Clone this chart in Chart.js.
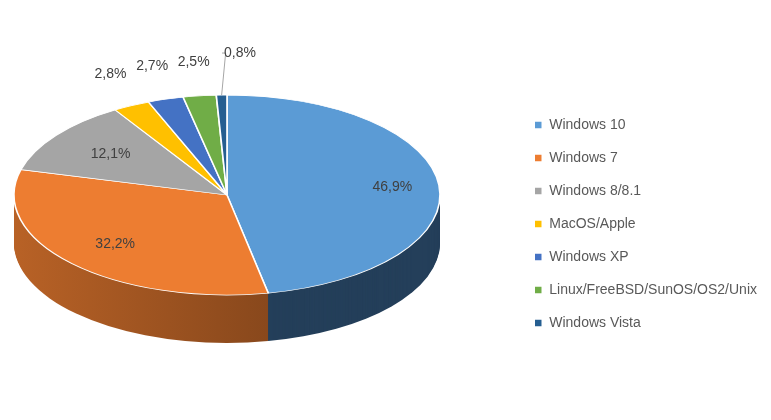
<!DOCTYPE html>
<html>
<head>
<meta charset="utf-8">
<script src="https://cdn.jsdelivr.net/npm/chart.js@4"></script>
<style>
  body { margin: 0; background: #fff; }
  #wrap { width: 771px; height: 420px; }
</style>
</head>
<body>
<div id="wrap"><canvas id="pie"></canvas></div>
<script>
const labels = ['Windows 10', 'Windows 7', 'Windows 8/8.1', 'MacOS/Apple', 'Windows XP', 'Linux/FreeBSD/SunOS/OS2/Unix', 'Windows Vista'];
const shares = [46.9, 32.2, 12.1, 2.8, 2.7, 2.5, 0.8];
const colors = ['#5b9bd5', '#ed7d31', '#a5a5a5', '#ffc000', '#4472c4', '#70ad47', '#255e91'];

// where the tilted pie sits on screen
const CX = 227, CY = 195, RX = 213, RY = 100, DEPTH = 48;

function shade(hex, f) {
    const n = parseInt(hex.slice(1), 16);
    const r = Math.round(((n >> 16) & 255) * f), g = Math.round(((n >> 8) & 255) * f), b = Math.round((n & 255) * f);
    return `rgb(${r},${g},${b})`;
}

function tilt(ctx, arc) {
    const r = arc.outerRadius;
    ctx.translate(CX, CY);
    ctx.scale(RX / r, RY / r);
    ctx.translate(-arc.x, -arc.y);
}

const pie3d = {
    id: 'pie3d',
    beforeDatasetsDraw(chart) {
        const ctx = chart.ctx;
        const arcs = chart.getDatasetMeta(0).data;
        arcs.forEach((arc, i) => {
            const grad = ctx.createLinearGradient(CX - RX, 0, CX + RX, 0);
            grad.addColorStop(0, shade(colors[i], 0.82));
            grad.addColorStop(1, shade(colors[i], 0.45));
            for (let d = DEPTH; d > 0; d--) {
                ctx.save();
                ctx.translate(0, d);
                tilt(ctx, arc);
                ctx.beginPath();
                ctx.moveTo(arc.x, arc.y);
                ctx.arc(arc.x, arc.y, arc.outerRadius, arc.startAngle, arc.endAngle);
                ctx.closePath();
                ctx.fillStyle = i === 0 ? '#243f5a' : grad;
                ctx.fill();
                ctx.restore();
            }
        });
        ctx.save();
        tilt(ctx, arcs[0]);
    },
    afterDatasetsDraw(chart) {
        const ctx = chart.ctx;
        ctx.restore();
        const arcs = chart.getDatasetMeta(0).data;
        ctx.save();
        ctx.font = '14px "Liberation Sans", Arial, sans-serif';
        ctx.fillStyle = '#404040';
        ctx.textAlign = 'center';
        ctx.textBaseline = 'middle';
        const fr = [0.78, 0.72, 0.68, 1.22, 1.22, 1.22, 1.3];
        arcs.forEach((arc, i) => {
            const mid = (arc.startAngle + arc.endAngle) / 2;
            let x = CX + RX * fr[i] * Math.cos(mid);
            let y = CY + RY * fr[i] * Math.sin(mid);
            if (i >= 3) y -= 12;
            if (i === 6) {
                x += 20;
                ctx.strokeStyle = '#a6a6a6';
                ctx.lineWidth = 1;
                ctx.beginPath();
                ctx.moveTo(CX + RX * Math.cos(mid), CY + RY * Math.sin(mid));
                ctx.lineTo(CX + RX * Math.cos(mid) + 4, y);
                ctx.lineTo(x - 18, y);
                ctx.stroke();
            }
            ctx.fillText(shares[i].toFixed(1).replace('.', ',') + '%', x, y);
        });
        ctx.restore();
    }
};

new Chart(document.getElementById('pie'), {
    type: 'pie',
    data: {
        labels,
        datasets: [{
            data: shares,
            backgroundColor: colors,
            borderColor: '#ffffff',
            borderWidth: 1.5
        }]
    },
    options: {
        responsive: true,
        maintainAspectRatio: false,
        animation: false,
        layout: { padding: { top: 28, right: 4 } },
        plugins: {
            tooltip: { enabled: false },
            legend: {
                position: 'right',
                labels: {
                    boxWidth: 8,
                    boxHeight: 8,
                    padding: 19,
                    color: '#595959',
                    font: { size: 14, family: '"Liberation Sans", Arial, sans-serif' }
                }
            }
        }
    },
    plugins: [pie3d]
});
</script>
</body>
</html>
